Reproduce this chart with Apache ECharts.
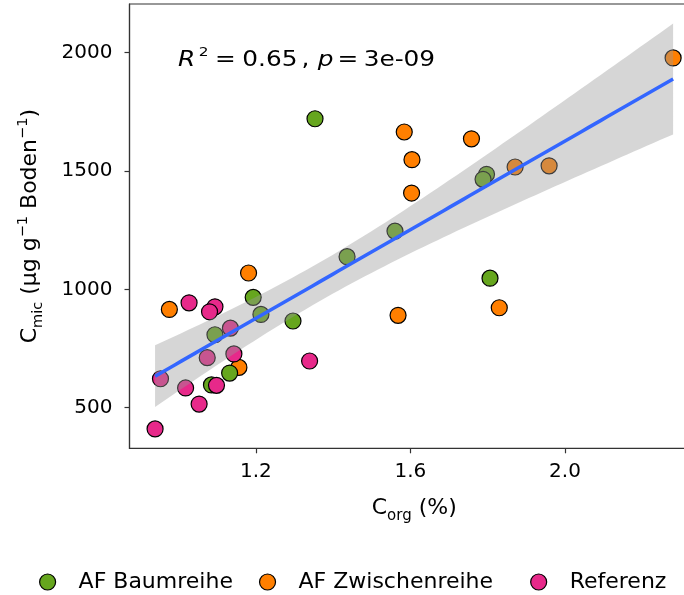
<!DOCTYPE html>
<html><head><meta charset="utf-8">
<script src="https://cdn.jsdelivr.net/npm/echarts@6/dist/echarts.min.js"></script>
<style>html,body{margin:0;padding:0;background:#fff}#c{width:684px;height:595px}</style>
</head><body><div id="c"></div><script>
// ---- data ----
const groupNames = ['AF Baumreihe', 'AF Zwischenreihe', 'Referenz'];
const baumX = [1.193, 1.213, 1.094, 1.296, 1.132, 1.085, 1.353, 1.797, 1.788, 1.560, 1.436, 1.806];
const baumY = [966, 894, 808, 866, 646, 596, 1721, 1486, 1465, 1246, 1138, 1047];
const zwischenX = [0.976, 1.181, 1.156, 1.584, 1.758, 1.604, 1.603, 1.568, 1.830, 1.871, 1.959, 2.280];
const zwischenY = [915, 1069, 670, 1665, 1636, 1548, 1407, 890, 922, 1517, 1522, 1978];
const referenzX = [1.027, 1.094, 1.080, 1.134, 1.074, 1.143, 0.953, 1.018, 1.098, 1.053, 0.939, 1.339];
const referenzY = [943, 926, 905, 836, 711, 727, 622, 583, 594, 515, 410, 697];
const xTicks = [1.2, 1.6, 2.0];
const yTicks = [500, 1000, 1500, 2000];
const statText = '{i|R}{sup|2}{n1|=}{n2|0.65}{n3|,}{ip|p}{n5|=}{n4|3e-09}';

// ---- regression (lm with 95% CI) ----
const allX = baumX.concat(zwischenX, referenzX);
const allY = baumY.concat(zwischenY, referenzY);
const n = allX.length;
const mx = allX.reduce((s, v) => s + v, 0) / n;
const my = allY.reduce((s, v) => s + v, 0) / n;
let sxx = 0, sxy = 0;
for (let i = 0; i < n; i++) { sxx += (allX[i] - mx) ** 2; sxy += (allX[i] - mx) * (allY[i] - my); }
const b = sxy / sxx, a = my - b * mx;
let sse = 0;
for (let i = 0; i < n; i++) { sse += (allY[i] - (a + b * allX[i])) ** 2; }
const sres = Math.sqrt(sse / (n - 2));
const tq = 2.0322;
const xmin = Math.min(...allX), xmax = Math.max(...allX);
const band = [];
for (let i = 0; i < 80; i++) {
  const x = xmin + (xmax - xmin) * i / 79;
  const yh = a + b * x;
  const se = sres * Math.sqrt(1 / n + (x - mx) ** 2 / sxx);
  band.push([x, yh - tq * se, yh + tq * se, yh]);
}

const F = 'DejaVu Sans';
const zip = (xs, ys) => xs.map((x, i) => [x, ys[i]]);
const colors = { 'AF Baumreihe': '#66A61E', 'AF Zwischenreihe': '#FF7F00', 'Referenz': '#E7298A' };
const ptStyle = c => ({ color: c, borderColor: '#000', borderWidth: 1.2, opacity: 1 });
const tok = (pl, extra) => Object.assign({ fontFamily: F, fontSize: 21, lineHeight: 30, padding: [0, 0, 0, pl] }, extra || {});

const chart = echarts.init(document.getElementById('c'), null, { renderer: 'canvas' });
chart.setOption({
  animation: false,
  backgroundColor: '#fff',
  grid: { left: 129.5, top: 4, width: 569.5, height: 444.3, outerBoundsMode: 'none', containLabel: false,
          show: true, borderColor: '#333', borderWidth: 1.2, backgroundColor: 'transparent' },
  xAxis: {
    type: 'value', min: 0.8728, max: 2.347,
    name: '{m|C}{sub|org}{m| (%)}', nameLocation: 'middle', nameGap: 45,
    nameTextStyle: { rich: {
      m: { fontFamily: F, fontSize: 22, color: '#000', lineHeight: 30 },
      sub: { fontFamily: F, fontSize: 15, color: '#000', verticalAlign: 'bottom', lineHeight: 18 }
    } },
    axisLine: { show: true, onZero: false, lineStyle: { color: '#333', width: 1.2 } },
    axisTick: { show: true, length: 5, customValues: xTicks, lineStyle: { color: '#333', width: 1.2 } },
    axisLabel: { customValues: xTicks, margin: 13, fontFamily: F, fontSize: 20, color: '#000', formatter: v => v.toFixed(1) },
    splitLine: { show: false }
  },
  yAxis: {
    type: 'value', min: 328, max: 2206,
    name: '{m|C}{sub|mic}{m| (µg g}{sup|−1}{m| Boden}{sup|−1}{m|)}', nameLocation: 'middle', nameGap: 84,
    nameTextStyle: { rich: {
      m: { fontFamily: F, fontSize: 22, color: '#000', lineHeight: 30 },
      sub: { fontFamily: F, fontSize: 14.5, color: '#000', verticalAlign: 'bottom', lineHeight: 18 },
      sup: { fontFamily: F, fontSize: 14.5, color: '#000', verticalAlign: 'top', lineHeight: 16 }
    } },
    axisLine: { show: true, onZero: false, lineStyle: { color: '#333', width: 1.2 } },
    axisTick: { show: true, length: 5, customValues: yTicks, lineStyle: { color: '#333', width: 1.2 } },
    axisLabel: { customValues: yTicks, margin: 17, fontFamily: F, fontSize: 20, color: '#000', formatter: v => String(v) },
    splitLine: { show: false }
  },
  legend: {
    data: groupNames, top: 571, left: 39, padding: 0, icon: 'circle', itemWidth: 16, itemHeight: 16, itemGap: 26,
    formatter: name => name === 'AF Zwischenreihe' ? name + '\u2002' : name,
    textStyle: { fontFamily: F, fontSize: 22, color: '#000', padding: [0, 0, 0, 18] },
    itemStyle: { borderColor: '#000', borderWidth: 1.2 }
  },
  graphic: [{
    type: 'text', x: 178, y: 46, scaleX: 1.18, z: 100,
    style: {
      text: statText, fill: '#000',
      rich: {
        i: tok(0, { fontStyle: 'italic' }),
        sup: { fontFamily: F, fontSize: 13, verticalAlign: 'top', lineHeight: 14, padding: [0, 0, 0, 3] },
        n1: tok(5.5),
        n2: tok(5.5),
        n3: tok(3.5),
        ip: tok(7, { fontStyle: 'italic' }),
        n5: tok(3.5),
        n4: tok(4.5)
      }
    }
  }],
  series: [
    { name: 'AF Zwischenreihe', type: 'scatter', data: zip(zwischenX, zwischenY), symbolSize: 16, itemStyle: ptStyle(colors['AF Zwischenreihe']), z: 2 },
    { name: 'AF Baumreihe', type: 'scatter', data: zip(baumX, baumY), symbolSize: 16, itemStyle: ptStyle(colors['AF Baumreihe']), z: 2 },
    { name: 'Referenz', type: 'scatter', data: zip(referenzX, referenzY), symbolSize: 16, itemStyle: ptStyle(colors['Referenz']), z: 2 },
    {
      name: 'ci', type: 'custom', z: 3, silent: true, data: [[xmin, a + b * xmin]],
      renderItem: (params, api) => {
        const up = band.map(p => api.coord([p[0], p[2]]));
        const lo = band.slice().reverse().map(p => api.coord([p[0], p[1]]));
        return { type: 'polygon', shape: { points: up.concat(lo) }, style: { fill: 'rgba(153,153,153,0.4)' } };
      }
    },
    {
      name: 'fit', type: 'line', z: 4, silent: true, showSymbol: false, symbol: 'none',
      data: band.map(p => [p[0], p[3]]),
      lineStyle: { color: '#3366FF', width: 3.5 }
    }
  ]
});
</script></body></html>
